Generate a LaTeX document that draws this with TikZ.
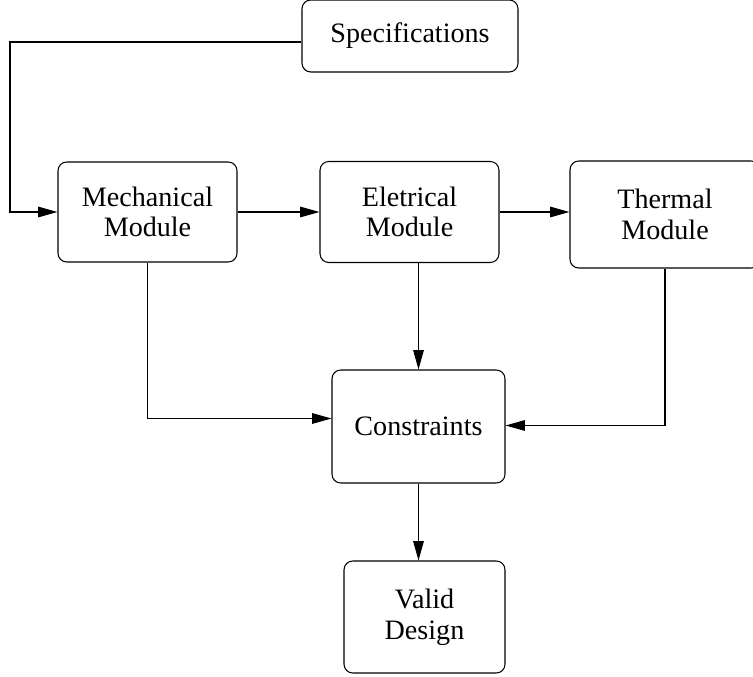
\documentclass[tikz,border=0pt]{standalone}
\usepackage{fontspec}
\setmainfont{Liberation Serif}
\usetikzlibrary{arrows.meta}

\begin{document}
\begin{tikzpicture}[x=0.02cm, y=0.02cm,
  block/.style={draw, rounded corners=5pt, line width=0.6pt, align=center,
    inner sep=0pt, font=\fontsize{16}{17.5}\selectfont},
  arr/.style={line width=0.6pt, -{Triangle[length=11pt,width=6pt]}}]
\useasboundingbox (0, 0) rectangle (753, 676);
\node [block, minimum width=216*0.02cm, minimum height=72*0.02cm] (spec) at (410, 640) {Specifications};
\node [block, minimum width=179*0.02cm, minimum height=100*0.02cm] (mech) at (147.5, 464) {Mechanical\\Module};
\node [block, minimum width=179*0.02cm, minimum height=101*0.02cm] (elec) at (409.5, 464) {Eletrical\\Module};
\node [block, minimum width=190*0.02cm, minimum height=107*0.02cm] (therm) at (665, 461.5) {Thermal\\Module};
\node [block, minimum width=173*0.02cm, minimum height=113*0.02cm] (cons) at (418.5, 249.5) {Constraints};
\node [block, minimum width=161*0.02cm, minimum height=112*0.02cm] (valid) at (424.5, 59) {Valid\\Design};
\coordinate (loop) at (10, 634);
\draw [arr] (spec.west |- loop) -- (loop) |- (mech.west);
\draw [arr] (mech.east) -- (elec.west);
\draw [arr] (elec.east) -- (elec.east -| therm.west);
\draw [arr] (cons.north |- elec.south) -- (cons.north);
\draw [arr] (mech.south) |- ([yshift=0.16cm]cons.west);
\draw [arr] (therm.south) |- ([yshift=0.02cm]cons.east);
\draw [arr] (cons.south) -- (cons.south |- valid.north);
\end{tikzpicture}
\end{document}
